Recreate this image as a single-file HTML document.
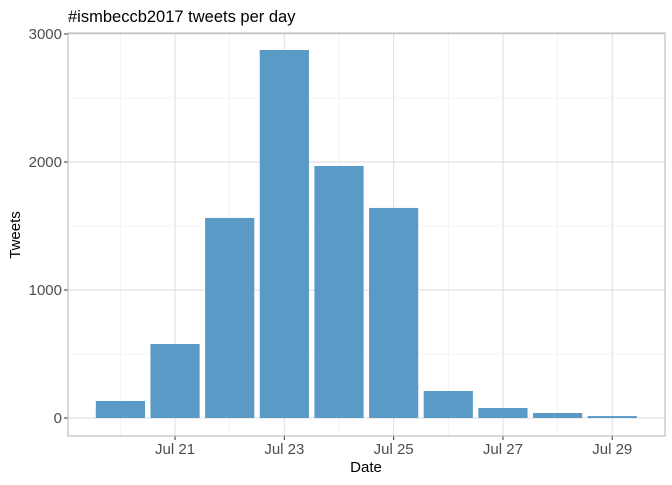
<!DOCTYPE html>
<html><head><meta charset="utf-8"><style>
body{margin:0;background:#fff;font-family:"Liberation Sans",Arial,sans-serif}
</style></head><body>
<svg id="c" width="672" height="480" xmlns="http://www.w3.org/2000/svg">
<text x="68" y="22" font-size="16.5" fill="#000">#ismbeccb2017 tweets per day</text>
<g id="grid"></g><g id="bars"></g><g id="axes"></g>
<text x="366" y="472" font-size="15" text-anchor="middle">Date</text>
<text transform="translate(20,235) rotate(-90)" font-size="15" text-anchor="middle">Tweets</text>
</svg>
<script>
const days=[20,21,22,23,24,25,26,27,28,29];
const tweets=[133,578,1563,2875,1969,1641,211,78,39,15];
const xTicks=[21,23,25,27,29];
const xTickLabels=["Jul 21","Jul 23","Jul 25","Jul 27","Jul 29"];
const yTicks=[0,1000,2000,3000];
const NS="http://www.w3.org/2000/svg";
const L=68,R=665,T=33,B=436;
const x=d=>120.4+(d-20)*54.65;
const y=v=>418-v*0.128;
function mk(tag,attrs,parent){const e=document.createElementNS(NS,tag);for(const k in attrs)e.setAttribute(k,attrs[k]);document.getElementById(parent).appendChild(e);return e;}
// minor grid
for(let v=500;v<=3500;v+=1000){if(y(v)<T)continue;const g=mk('line',{x1:L,x2:R,y1:y(v),y2:y(v),stroke:'#ebebeb','stroke-width':0.6},'grid');}
for(let d=20;d<=30;d+=2){if(x(d)>R)continue;const g=mk('line',{x1:x(d),x2:x(d),y1:T,y2:B,stroke:'#ebebeb','stroke-width':0.6},'grid');}
yTicks.forEach(v=>{const g=mk('line',{x1:L,x2:R,y1:y(v),y2:y(v),stroke:'#dedede','stroke-width':1},'grid');
const t=mk('text',{x:L-6,y:y(v)+5,'font-size':15,'text-anchor':'end',fill:'#4d4d4d'},'axes');t.textContent=v;
const tk=mk('line',{x1:L-4,x2:L,y1:y(v),y2:y(v),stroke:'#333'},'axes');});
xTicks.forEach((d,i)=>{const g=mk('line',{x1:x(d),x2:x(d),y1:T,y2:B,stroke:'#dedede','stroke-width':1},'grid');
const t=mk('text',{x:x(d),y:B+18,'font-size':15,'text-anchor':'middle',fill:'#4d4d4d'},'axes');t.textContent=xTickLabels[i];
const tk=mk('line',{x1:x(d),x2:x(d),y1:B,y2:B+4,stroke:'#333'},'axes');});
days.forEach((d,i)=>{const b=mk('rect',{x:x(d)-24.6,width:49.2,y:y(tweets[i]),height:y(0)-y(tweets[i]),fill:'#5b9ac6'},'bars');});
const p=mk('rect',{x:L,y:T,width:R-L,height:B-T,fill:'none',stroke:'#b3b3b3','stroke-width':1},'axes');
</script>
</body></html>
